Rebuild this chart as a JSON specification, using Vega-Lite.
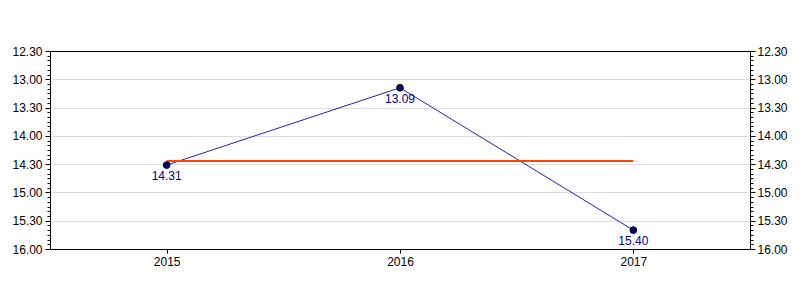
{
  "$schema": "https://vega.github.io/schema/vega-lite/v6.json",
  "width": 700,
  "height": 198,
  "autosize": {"type": "none"},
  "padding": {"left": 50, "top": 51, "right": 50, "bottom": 51},
  "background": "white",
  "config": {
    "view": {"stroke": "black", "strokeWidth": 1},
    "axis": {"labelFont": "Liberation Sans", "labelFontSize": 12, "labelColor": "black", "domainColor": "black", "tickColor": "black"}
  },
  "data": {
    "values": [
      {"year": "2015", "time": 14.5167, "label": "14.31"},
      {"year": "2016", "time": 13.15, "label": "13.09"},
      {"year": "2017", "time": 15.6667, "label": "15.40"}
    ]
  },
  "encoding": {
    "x": {
      "field": "year", "type": "ordinal",
      "scale": {"type": "point", "padding": 0.5},
      "axis": {"title": null, "labelAngle": 0, "grid": false, "tickSize": 4, "labelPadding": 3, "domainColor": "black"}
    }
  },
  "layer": [
    {
      "mark": {"type": "line", "color": "#2222aa", "strokeWidth": 1},
      "encoding": {
        "y": {
          "field": "time", "type": "quantitative",
          "scale": {"domain": [12.5, 16], "reverse": true, "nice": false, "zero": false},
          "axis": {
            "orient": "left", "title": null,
            "values": [12.5,12.5833,12.6667,12.75,12.8333,12.9167,13,13.0833,13.1667,13.25,13.3333,13.4167,13.5,13.5833,13.6667,13.75,13.8333,13.9167,14,14.0833,14.1667,14.25,14.3333,14.4167,14.5,14.5833,14.6667,14.75,14.8333,14.9167,15,15.0833,15.1667,15.25,15.3333,15.4167,15.5,15.5833,15.6667,15.75,15.8333,15.9167,16],
            "labelOverlap": false,
            "labelExpr": "abs(datum.value*2 - round(datum.value*2)) < 0.001 ? format(floor(datum.value + 0.001), 'd') + '.' + (abs(datum.value - round(datum.value)) < 0.001 ? '00' : '30') : ''",
            "tickSize": {"condition": {"test": "abs(datum.value*2 - round(datum.value*2)) < 0.001", "value": 5}, "value": 3},
            "labelPadding": 3,
            "grid": true,
            "gridColor": "#dddddd",
            "gridOpacity": {"condition": {"test": "abs(datum.value*2 - round(datum.value*2)) < 0.001 && datum.value > 12.6 && datum.value < 15.9", "value": 1}, "value": 0}
          }
        }
      }
    },
    {
      "transform": [{"joinaggregate": [{"op": "mean", "field": "time", "as": "avg"}]}],
      "mark": {"type": "line", "color": "#ff4500", "strokeWidth": 2},
      "encoding": {
        "y": {
          "field": "avg", "type": "quantitative",
          "scale": {"domain": [12.5, 16], "reverse": true, "nice": false, "zero": false},
          "axis": {
            "orient": "right", "title": null,
            "values": [12.5,12.5833,12.6667,12.75,12.8333,12.9167,13,13.0833,13.1667,13.25,13.3333,13.4167,13.5,13.5833,13.6667,13.75,13.8333,13.9167,14,14.0833,14.1667,14.25,14.3333,14.4167,14.5,14.5833,14.6667,14.75,14.8333,14.9167,15,15.0833,15.1667,15.25,15.3333,15.4167,15.5,15.5833,15.6667,15.75,15.8333,15.9167,16],
            "labelOverlap": false,
            "labelExpr": "abs(datum.value*2 - round(datum.value*2)) < 0.001 ? format(floor(datum.value + 0.001), 'd') + '.' + (abs(datum.value - round(datum.value)) < 0.001 ? '00' : '30') : ''",
            "tickSize": {"condition": {"test": "abs(datum.value*2 - round(datum.value*2)) < 0.001", "value": 5}, "value": 3},
            "labelPadding": 2,
            "grid": false
          }
        }
      }
    },
    {
      "mark": {"type": "point", "filled": true, "fill": "#000080", "stroke": "black", "strokeWidth": 1, "size": 45, "opacity": 1},
      "encoding": {
        "y": {"field": "time", "type": "quantitative", "scale": {"domain": [12.5, 16], "reverse": true, "nice": false, "zero": false}, "axis": null}
      }
    },
    {
      "mark": {"type": "text", "color": "#000080", "font": "Liberation Sans", "fontSize": 12, "baseline": "top", "dy": 6},
      "encoding": {
        "y": {"field": "time", "type": "quantitative", "scale": {"domain": [12.5, 16], "reverse": true, "nice": false, "zero": false}, "axis": null},
        "text": {"field": "label"}
      }
    }
  ],
  "resolve": {"scale": {"y": "independent"}, "axis": {"y": "independent"}}
}
